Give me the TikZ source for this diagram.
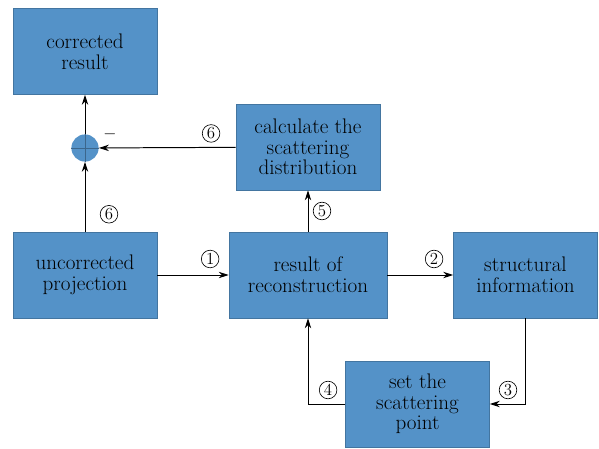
\documentclass[tikz,border=0pt]{standalone}
\usepackage{tikz}
\usetikzlibrary{arrows.meta}
\definecolor{boxblue}{RGB}{84,146,200}
\tikzset{x=0.025cm, y=-0.025cm,
  block/.style={draw=boxblue!80!black, line width=0.4pt, fill=boxblue,
    minimum width=3.6cm, minimum height=2.15cm, align=center, inner sep=2pt,
    font=\fontsize{15}{14.7}\selectfont},
  sumnode/.style={circle, fill=boxblue, minimum size=0.68cm, inner sep=0pt},
  num/.style={circle, draw, line width=0.45pt, inner sep=0pt, minimum size=0.44cm,
    font=\fontsize{12}{12}\selectfont},
  conn/.style={-{Stealth[length=2.5mm, width=1.6mm, inset=0.8mm]}, line width=0.7pt}}

\begin{document}
\begin{tikzpicture}
                \useasboundingbox (0,0) rectangle (599,448);
                \node[block] (corr)   at (85,51.5)   {corrected\\result};
                \node[sumnode] (sum)  at (85,148)    {};
                \node[block] (calc)   at (308,147)   {calculate the\\scattering\\distribution};
                \node[block] (uncorr) at (85,275)    {uncorrected\\projection};
                \node[block, minimum width=3.95cm] (recon) at (308,275) {result of\\reconstruction};
                \node[block] (struct) at (525.5,275) {structural\\information};
                \node[block] (setpt)  at (417.5,404) {set the\\scattering\\point};
                \node[font=\fontsize{12}{12}\selectfont] (minus) at (110,134) {$-$};
                \draw[boxblue!70!black, line width=0.3pt] (sum.north) -- (sum.south) (sum.west) -- (sum.east);
                \draw[conn] (sum) -- (corr);
                \draw[conn] (uncorr) -- node[num, pos=0.25, xshift=0.6cm] {6} (sum);
                \draw[conn] (calc) -- node[num, pos=0.18, yshift=0.35cm] {6} (sum);
                \draw[conn] (uncorr) -- node[num, pos=0.74, yshift=0.4cm] {1} (recon);
                \draw[conn] (recon) -- node[num, pos=0.5, xshift=0.35cm] {5} (calc);
                \draw[conn] (recon) -- node[num, pos=0.71, yshift=0.4cm] {2} (struct);
                \draw[conn] (struct.south) |- node[num, pos=0.745, yshift=0.35cm] {3} (setpt.east);
                \draw[conn] (setpt.west) -| node[num, pos=0.23, yshift=0.35cm] {4} (recon.south);
              \end{tikzpicture}
\end{document}
